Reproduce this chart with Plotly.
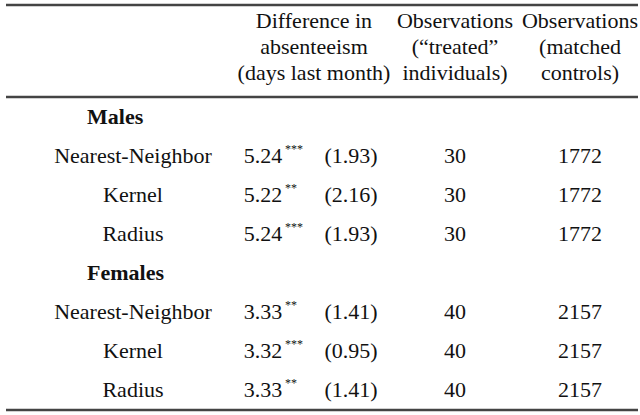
import plotly.graph_objects as go

# table contents
groups = ["Males", "Females"]
methods = ["Nearest-Neighbor", "Kernel", "Radius"]
coef_males = ["5.24", "5.22", "5.24"]
stars_males = ["***", "**", "***"]
se_males = ["(1.93)", "(2.16)", "(1.93)"]
treated_males = [30, 30, 30]
controls_males = [1772, 1772, 1772]
coef_females = ["3.33", "3.32", "3.33"]
stars_females = ["**", "***", "**"]
se_females = ["(1.41)", "(0.95)", "(1.41)"]
treated_females = [40, 40, 40]
controls_females = [2157, 2157, 2157]
header_lines = [
    ["Difference in", "absenteeism", "(days last month)"],
    ["Observations", "(\u201ctreated\u201d", "individuals)"],
    ["Observations", "(matched", "controls)"],
]

W, H = 640, 415
FONT = "Liberation Serif, Times New Roman, serif"
FS = 22
INK = "#111111"

# layout (pixel positions)
x_label, x_coef, x_star, x_se, x_obs, x_ctrl = 133, 263, 285, 351, 455, 580
x_group = 87
x_head = [314, 455, 580]
y_head = [22, 48, 74]
y_group = [118, 274]
y_rows = [[157, 196, 235], [313, 352, 391]]

fig = go.Figure()


def txt(xs, ys, texts, pos="middle center", size=FS):
    fig.add_trace(go.Scatter(
        x=xs, y=ys, text=texts, mode="text", textposition=pos,
        textfont=dict(family=FONT, size=size, color=INK),
        hoverinfo="skip", showlegend=False,
    ))


for xh, lines in zip(x_head, header_lines):
    txt([xh] * 3, y_head, lines)

data = [
    (coef_males, stars_males, se_males, treated_males, controls_males),
    (coef_females, stars_females, se_females, treated_females, controls_females),
]
for g, name in enumerate(groups):
    txt([x_group], [y_group[g]], ["<b>" + name + "</b>"], pos="middle right")
    coef, stars, se, tr, ct = data[g]
    ys = y_rows[g]
    txt([x_label] * 3, ys, methods)
    txt([x_coef] * 3, ys, coef)
    txt([x_star] * 3, [y - 7 for y in ys], stars, pos="middle right", size=12)
    txt([x_se] * 3, ys, se)
    txt([x_obs] * 3, ys, [str(v) for v in tr])
    txt([x_ctrl] * 3, ys, [str(v) for v in ct])

for y0 in [5, 97, 410]:
    fig.add_shape(type="line", x0=6, x1=638, y0=y0, y1=y0,
                  line=dict(color="#444444", width=2.5))

fig.update_xaxes(range=[0, W], visible=False, fixedrange=True)
fig.update_yaxes(range=[H, 0], visible=False, fixedrange=True)
fig.update_layout(
    width=W, height=H, margin=dict(l=0, r=0, t=0, b=0),
    paper_bgcolor="white", plot_bgcolor="white",
)

# page body has a default margin; drop it so the table sits at the corner
fig.write_html("out.html", config={"displayModeBar": False},
               post_script="document.body.style.margin='0';")
